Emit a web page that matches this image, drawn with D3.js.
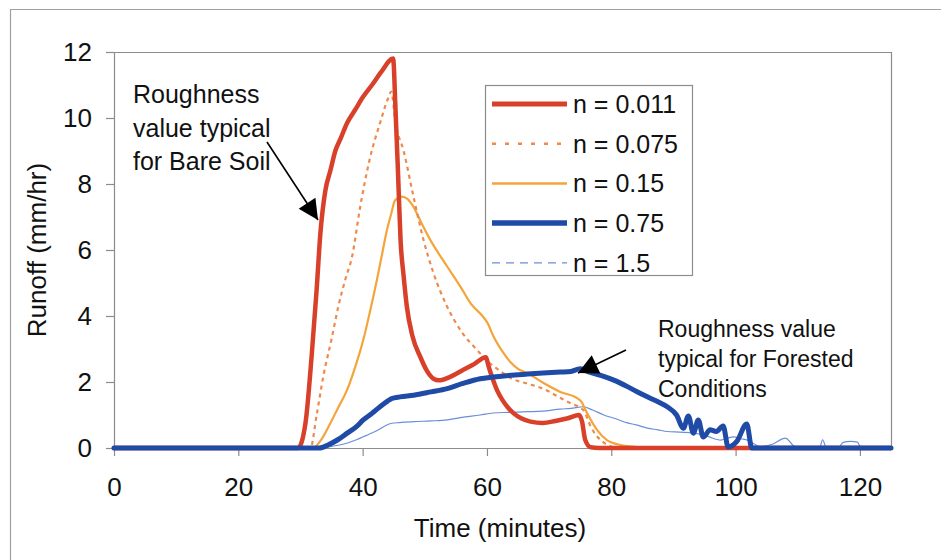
<!DOCTYPE html>
<html>
<head>
<meta charset="utf-8">
<script src="https://cdn.jsdelivr.net/npm/d3@7"></script>
<style>
  html, body { margin: 0; padding: 0; background: #fff; }
  svg { display: block; font-family: "Liberation Sans", Arial, sans-serif; }
</style>
</head>
<body>
<svg id="chart" width="941" height="560"></svg>
<script>
// ---------- DATA ----------
const xTicks = [0, 20, 40, 60, 80, 100, 120];
const yTicks = [0, 2, 4, 6, 8, 10, 12];
const seriesNames = ["n = 0.011", "n = 0.075", "n = 0.15", "n = 0.75", "n = 1.5"];

const timeN0011 = [0, 29.6, 30.8, 31.8, 32.6, 33.2, 34, 34.8, 35.6, 36.5, 37.5, 38.8, 40.1, 41.5, 43, 44.9, 45.3, 45.7, 46.1, 46.6, 47.1, 48, 49.3, 50.3, 51.4, 52.3, 54, 56, 58, 59.8, 60.3, 61, 61.6, 62.5, 63.4, 64.3, 65.5, 67, 69, 71, 73, 74.8, 75.3, 75.8, 76.7, 78, 125];
const runoffN0011 = [0, 0, 0.75, 2.8, 4.8, 6.5, 7.8, 8.4, 9.0, 9.4, 9.85, 10.25, 10.65, 11.0, 11.4, 11.8, 10.2, 8.3, 6.3, 5.2, 4.3, 3.4, 2.75, 2.35, 2.1, 2.05, 2.15, 2.35, 2.55, 2.75, 2.45, 2.05, 1.76, 1.45, 1.22, 1.05, 0.9, 0.8, 0.76, 0.82, 0.9, 1.0, 0.8, 0.25, 0.02, 0, 0];

const timeN0075 = [0, 31.6, 32.6, 33.7, 35, 36.1, 37.2, 38.3, 39.6, 41.2, 42.8, 44.1, 44.6, 45.3, 46.6, 48.2, 49.8, 51.4, 53.6, 56, 58.4, 60, 62, 64, 66.5, 69, 71.5, 73.5, 75.5, 76.7, 77.5, 78.3, 79.9, 81, 125];
const runoffN0075 = [0, 0, 1.0, 2.2, 3.3, 4.3, 5.1, 5.8, 7.3, 8.8, 9.85, 10.6, 10.8, 9.85, 9.0, 7.6, 6.3, 5.3, 4.28, 3.5, 2.97, 2.65, 2.35, 2.1, 1.95, 1.8, 1.55, 1.35, 1.15, 0.65, 0.4, 0.24, 0.05, 0, 0];

const timeN015 = [0, 32, 33.5, 34.8, 36, 37.5, 38.8, 40.1, 41.2, 42.3, 43.1, 43.9, 44.6, 45.2, 46.3, 47.2, 48.2, 49.5, 50.9, 52.2, 53.6, 55.7, 57.5, 59.5, 60.2, 61, 62.4, 63.8, 65, 66.5, 69.1, 71.8, 74.5, 75.2, 76.1, 77.7, 79.3, 81.5, 83.6, 86, 125];
const runoffN015 = [0, 0, 0.3, 0.75, 1.2, 1.76, 2.45, 3.27, 4.15, 5.1, 5.85, 6.6, 7.1, 7.5, 7.62, 7.55, 7.3, 6.8, 6.3, 5.9, 5.5, 4.9, 4.35, 3.95, 3.75, 3.4, 2.95, 2.6, 2.4, 2.27, 1.97, 1.7, 1.51, 1.4, 1.06, 0.55, 0.24, 0.09, 0.04, 0, 0];

const timeN075 = [0, 33, 34.5, 36, 37.5, 39, 40.1, 41.5, 42.8, 44, 44.7, 46, 48.2, 51, 53.6, 56, 58.9, 61, 63.5, 66.5, 69, 71.8, 73.5, 75, 76.5, 78.3, 80.5, 82.6, 84, 85.8, 87.5, 89, 90.5, 91.6, 92.4, 93.2, 94, 94.8, 95.9, 96.9, 98, 98.8, 100.2, 101.8, 102.6, 125];
const runoffN075 = [0, 0, 0.1, 0.25, 0.45, 0.65, 0.85, 1.05, 1.25, 1.42, 1.5, 1.55, 1.6, 1.7, 1.8, 1.95, 2.1, 2.15, 2.2, 2.24, 2.27, 2.3, 2.32, 2.4, 2.3, 2.2, 2.05, 1.86, 1.72, 1.55, 1.4, 1.25, 1.0, 0.6, 0.97, 0.45, 0.85, 0.33, 0.55, 0.5, 0.67, 0.03, 0.2, 0.73, 0, 0];

const timeN15 = [0, 33, 35, 37, 39, 40.1, 42, 44.7, 46, 48.2, 51, 53.6, 55.7, 58.9, 61, 63.5, 66.5, 69, 71.8, 73.5, 75.5, 77, 78.8, 80.5, 82.6, 84, 85.8, 87.5, 89, 91, 93.3, 95.5, 97.6, 98.7, 99.7, 100.8, 101.9, 103, 104, 106, 108, 109.5, 111, 113.5, 114, 114.6, 116.5, 117.3, 118.5, 119.6, 120.2, 125];
const runoffN15 = [0, 0, 0.05, 0.12, 0.25, 0.34, 0.5, 0.75, 0.77, 0.8, 0.82, 0.85, 0.92, 1.0, 1.06, 1.08, 1.1, 1.12, 1.18, 1.2, 1.25, 1.15, 1.0, 0.9, 0.76, 0.7, 0.6, 0.55, 0.5, 0.48, 0.45, 0.35, 0.24, 0.3, 0.34, 0.28, 0.24, 0.12, 0.04, 0.12, 0.3, 0.05, 0, 0, 0.25, 0, 0, 0.17, 0.2, 0.18, 0, 0];

// ---------- STYLE ----------
const styles = [
  { color: "#d8402a", width: 4.5, dash: null, legendDash: null, legendWidth: 5 },
  { color: "#ee8a4c", width: 2.2, dash: "4,4", legendDash: "4,9", legendWidth: 2.5 },
  { color: "#f4a43a", width: 2.2, dash: null, legendDash: null, legendWidth: 2.5 },
  { color: "#1f4aa6", width: 5, dash: null, legendDash: null, legendWidth: 5.5 },
  { color: "#6a8fd8", width: 1.2, dash: null, legendDash: "8,6", legendWidth: 1.2 }
];

const series = [
  [timeN0011, runoffN0011],
  [timeN0075, runoffN0075],
  [timeN015, runoffN015],
  [timeN075, runoffN075],
  [timeN15, runoffN15]
].map(([t, v], i) => ({ name: seriesNames[i], pts: t.map((x, j) => [x, v[j]]), style: styles[i] }));

// ---------- LAYOUT ----------
const svg = d3.select("#chart");
const W = 941, H = 560;
const m = { left: 114, top: 52, right: 50, bottom: 112 };
const pw = W - m.left - m.right, ph = H - m.top - m.bottom;

const x = d3.scaleLinear().domain([0, 125]).range([m.left, m.left + pw]);
const y = d3.scaleLinear().domain([0, 12]).range([m.top + ph, m.top]);

const gray = "#8c8c8c";

// outer frame
svg.append("path").attr("d", `M10.5,${H} V9.5 H${W}`).attr("fill", "none").attr("stroke", "#a0a0a0").attr("stroke-width", 1.2);

// plot border top/right
svg.append("path")
  .attr("d", `M${m.left},${m.top + 0.5} H${m.left + pw + 0.5} V${m.top + ph}`)
  .attr("fill", "none").attr("stroke", gray).attr("stroke-width", 1.2);

// axes
const yAxis = d3.axisLeft(y).tickValues(yTicks).tickSize(8).tickPadding(14).tickSizeOuter(0);
const gy = svg.append("g").attr("transform", `translate(${m.left},0)`).call(yAxis);
gy.selectAll("text").attr("font-size", 26).attr("fill", "#111").attr("font-family", "Liberation Sans, Arial, sans-serif").attr("dy", "0.34em");

const xAxis = d3.axisBottom(x).tickValues(xTicks).tickSize(8).tickPadding(22).tickSizeOuter(0);
const gx = svg.append("g").attr("transform", `translate(0,${m.top + ph})`).call(xAxis);
gx.selectAll("text").attr("font-size", 26).attr("fill", "#111").attr("font-family", "Liberation Sans, Arial, sans-serif");

[gx, gy].forEach(g => {
  g.select(".domain").attr("stroke", gray).attr("stroke-width", 1.2);
  g.selectAll(".tick line").attr("stroke", gray).attr("stroke-width", 1.2);
});

// axis titles
svg.append("text").attr("x", 500).attr("y", 537).attr("text-anchor", "middle")
  .attr("font-size", 26).attr("fill", "#111").text("Time (minutes)");
svg.append("text").attr("transform", "translate(46,250) rotate(-90)").attr("text-anchor", "middle")
  .attr("font-size", 26).attr("fill", "#111").text("Runoff (mm/hr)");

// lines
const line = d3.line().x(d => x(d[0])).y(d => y(d[1])).curve(d3.curveMonotoneX);
const drawOrder = [4, 2, 1, 0, 3];
drawOrder.forEach(i => {
  const s = series[i];
  svg.append("path").datum(s.pts)
    .attr("d", line)
    .attr("fill", "none")
    .attr("stroke", s.style.color)
    .attr("stroke-width", s.style.width)
    .attr("stroke-dasharray", s.style.dash)
    .attr("stroke-linejoin", "round")
    .attr("stroke-linecap", s.style.dash ? "butt" : "round");
});

// legend
const lg = svg.append("g");
lg.append("rect").attr("x", 485.5).attr("y", 85.5).attr("width", 207).attr("height", 190)
  .attr("fill", "#fff").attr("stroke", gray).attr("stroke-width", 1.2);
series.forEach((s, i) => {
  const yy = 104 + i * 39.7;
  lg.append("line").attr("x1", 492).attr("x2", 567).attr("y1", yy).attr("y2", yy)
    .attr("stroke", s.style.color).attr("stroke-width", s.style.legendWidth)
    .attr("stroke-dasharray", s.style.legendDash);
  lg.append("text").attr("x", 573).attr("y", yy + 9).attr("font-size", 25).attr("fill", "#111").text(s.name);
});

// annotations
const ann1 = ["Roughness", "value typical", "for Bare Soil"];
ann1.forEach((t, i) => svg.append("text").attr("x", 133).attr("y", 103 + i * 33.5)
  .attr("font-size", 25).attr("fill", "#111").text(t));
const ann2 = ["Roughness value", "typical for Forested", "Conditions"];
ann2.forEach((t, i) => svg.append("text").attr("x", 658).attr("y", 337 + i * 30)
  .attr("font-size", 23).attr("fill", "#111").text(t));

function arrow(x1, y1, x2, y2, size) {
  svg.append("line").attr("x1", x1).attr("y1", y1).attr("x2", x2).attr("y2", y2)
    .attr("stroke", "#000").attr("stroke-width", 1.6);
  const a = Math.atan2(y2 - y1, x2 - x1);
  const L = size, w = size * 0.5;
  const bx = x2 - L * Math.cos(a), by = y2 - L * Math.sin(a);
  const p = [[x2, y2], [bx + w * Math.sin(a), by - w * Math.cos(a)], [bx - w * Math.sin(a), by + w * Math.cos(a)]];
  svg.append("path").attr("d", "M" + p.join("L") + "Z").attr("fill", "#000");
}
arrow(267, 142, 318, 220, 20);
arrow(626, 350, 578, 373, 20);
</script>
</body>
</html>
